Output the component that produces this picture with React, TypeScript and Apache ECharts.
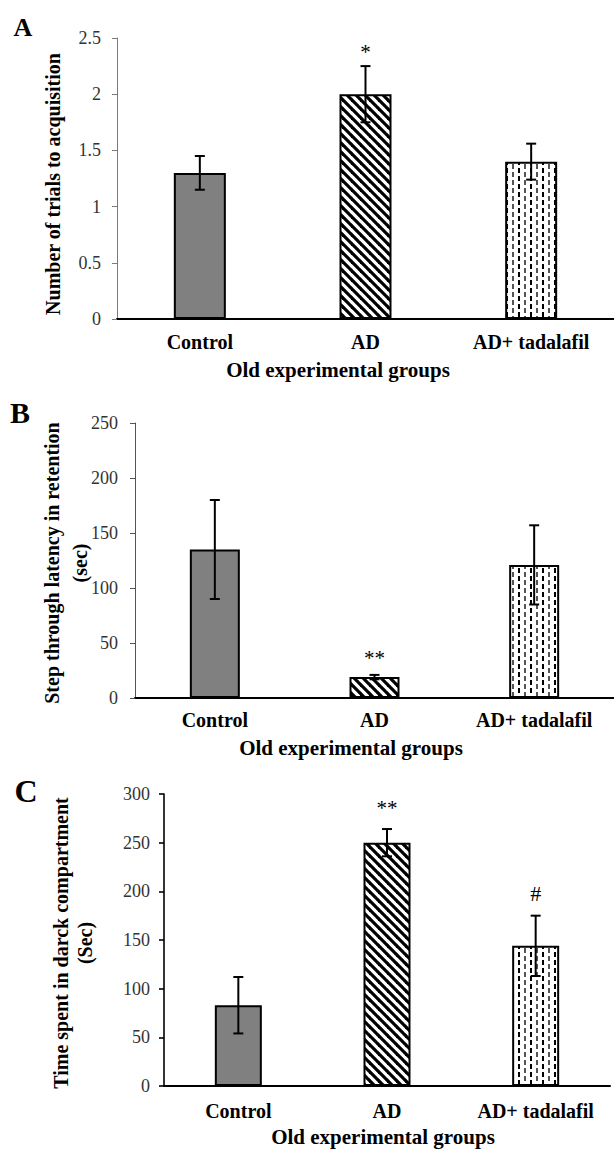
import React, { useEffect, useRef } from 'react';
import * as echarts from 'echarts';

// ---- data ----
const categories = ['Control', 'AD', 'AD+ tadalafil'];

const trialsMean = [1.3, 2.0, 1.4];
const trialsErr = [0.15, 0.25, 0.16];
const trialsSig = ['', '*', ''];
const trialsAxis = [0, 2.5, 0.5]; // min, max, interval

const latencyMean = [135, 19, 121];
const latencyErr = [45, 2, 36];
const latencySig = ['', '**', ''];
const latencyAxis = [0, 250, 50];

const darkMean = [83, 250, 144];
const darkErr = [29, 14, 31];
const darkSig = ['', '**', '#'];
const darkAxis = [0, 300, 50];

const panelLetters = ['A', 'B', 'C'];
const yTitles = [
  'Number of trials to acquisition',
  'Step through latency in retention\n(sec)',
  'Time spent in darck compartment\n(Sec)',
];
const xTitle = 'Old experimental groups';

const SERIF = '"Liberation Serif", "Times New Roman", serif';

function makeHatch(): HTMLCanvasElement {
  const s = 9;
  const c = document.createElement('canvas');
  c.width = s;
  c.height = s;
  const ctx = c.getContext('2d')!;
  ctx.fillStyle = '#fff';
  ctx.fillRect(0, 0, s, s);
  ctx.strokeStyle = '#000';
  ctx.lineWidth = 3.2;
  for (let k = -1; k <= 1; k++) {
    ctx.beginPath();
    ctx.moveTo(k * s - 1, -1);
    ctx.lineTo(k * s + s + 1, s + 1);
    ctx.stroke();
  }
  return c;
}

function makeDashes(): HTMLCanvasElement {
  const w = 12;
  const h = 8;
  const c = document.createElement('canvas');
  c.width = w;
  c.height = h;
  const ctx = c.getContext('2d')!;
  ctx.fillStyle = '#fff';
  ctx.fillRect(0, 0, w, h);
  ctx.fillStyle = '#000';
  ctx.fillRect(2, 0, 2, 5);
  ctx.fillStyle = '#555';
  ctx.fillRect(8, 4, 2, 4);
  ctx.fillRect(8, 0, 2, 1);
  return c;
}

export default function App() {
  const ref = useRef<HTMLDivElement>(null);

  useEffect(() => {
    document.body.style.margin = '0';
    const chart = echarts.init(ref.current!, null, { renderer: 'svg' });

    const hatch = makeHatch();
    const dashes = makeDashes();
    const hatchFill: any = { image: hatch, repeat: 'repeat', imageWidth: hatch.width, imageHeight: hatch.height };
    const dashFill: any = { image: dashes, repeat: 'repeat', imageWidth: dashes.width, imageHeight: dashes.height };

    const panels = [
      { mean: trialsMean, err: trialsErr, sig: trialsSig, axis: trialsAxis },
      { mean: latencyMean, err: latencyErr, sig: latencySig, axis: latencyAxis },
      { mean: darkMean, err: darkErr, sig: darkSig, axis: darkAxis },
    ];

    const grids = [
      { left: 117, top: 38, width: 497, height: 281 },
      { left: 135, top: 423, width: 479, height: 275 },
      { left: 164, top: 794, width: 446, height: 292 },
    ];
    const barWidths = [52, 50, 47];
    const yAxisStyle = [
      { color: '#7a7a7a', width: 1 },
      { color: '#555', width: 1 },
      { color: '#000', width: 1.6 },
    ];
    const yLabelMargin = [16, 17, 14];
    const xLabelMargin = [13, 12, 15];
    const sigGap = [14, 17, 21];

    const fills = [
      { color: '#808080', borderColor: '#000', borderWidth: 2 },
      { color: hatchFill, borderColor: '#000', borderWidth: 2 },
      { color: dashFill, borderColor: '#000', borderWidth: 2 },
    ];

    const series: any[] = [];
    panels.forEach((p, i) => {
      series.push({
        type: 'bar',
        xAxisIndex: i,
        yAxisIndex: i,
        barWidth: barWidths[i],
        data: p.mean.map((v, j) => ({ value: v, itemStyle: fills[j] })),
        z: 2,
      });
      series.push({
        type: 'custom',
        xAxisIndex: i,
        yAxisIndex: i,
        z: 5,
        data: p.mean.map((v, j) => [j, v, p.err[j]]),
        renderItem: (params: any, api: any) => {
          const x = api.value(0);
          const v = api.value(1);
          const e = api.value(2);
          const top = api.coord([x, v + e]);
          const bot = api.coord([x, v - e]);
          const hw = 5;
          const st = { stroke: '#000', lineWidth: 2 };
          const s = p.sig[params.dataIndex];
          const children: any[] = [
            { type: 'line', shape: { x1: top[0], y1: top[1], x2: bot[0], y2: bot[1] }, style: st },
            { type: 'line', shape: { x1: top[0] - hw, y1: top[1], x2: top[0] + hw, y2: top[1] }, style: st },
            { type: 'line', shape: { x1: bot[0] - hw, y1: bot[1], x2: bot[0] + hw, y2: bot[1] }, style: st },
          ];
          if (s) {
            const isHash = s === '#';
            children.push({
              type: 'text',
              x: top[0],
              y: top[1] - (isHash ? 22 : sigGap[i]),
              style: {
                text: s,
                fontFamily: SERIF,
                fontSize: isHash ? 22 : 21,
                fill: '#000',
                align: 'center',
                verticalAlign: 'middle',
              },
            });
          }
          return { type: 'group', children };
        },
      });
    });

    const graphic: any[] = [
      // panel letters
      { type: 'text', x: 23, y: 27, style: { text: panelLetters[0], font: `bold 26px ${SERIF}`, fill: '#000', align: 'center', verticalAlign: 'middle' } },
      { type: 'text', x: 20, y: 412, style: { text: panelLetters[1], font: `bold 30px ${SERIF}`, fill: '#000', align: 'center', verticalAlign: 'middle' } },
      { type: 'text', x: 26, y: 791, style: { text: panelLetters[2], font: `bold 32px ${SERIF}`, fill: '#000', align: 'center', verticalAlign: 'middle' } },
      // x titles
      { type: 'text', x: 338, y: 370, style: { text: xTitle, font: `bold 21px ${SERIF}`, fill: '#000', align: 'center', verticalAlign: 'middle' } },
      { type: 'text', x: 351, y: 748, style: { text: xTitle, font: `bold 21px ${SERIF}`, fill: '#000', align: 'center', verticalAlign: 'middle' } },
      { type: 'text', x: 383, y: 1137, style: { text: xTitle, font: `bold 21px ${SERIF}`, fill: '#000', align: 'center', verticalAlign: 'middle' } },
      // y titles
      { type: 'text', x: 53, y: 184, rotation: Math.PI / 2, style: { text: yTitles[0], font: `bold 20px ${SERIF}`, fill: '#000', align: 'center', verticalAlign: 'middle' } },
      { type: 'text', x: 66, y: 563, rotation: Math.PI / 2, style: { text: yTitles[1], font: `bold 20px ${SERIF}`, lineHeight: 28, fill: '#000', align: 'center', verticalAlign: 'middle' } },
      { type: 'text', x: 73, y: 943, rotation: Math.PI / 2, style: { text: yTitles[2], font: `bold 20px ${SERIF}`, lineHeight: 24, fill: '#000', align: 'center', verticalAlign: 'middle' } },
    ];

    const option: any = {
      animation: false,
      backgroundColor: '#fff',
      grid: grids,
      xAxis: grids.map((_, i) => ({
        type: 'category',
        gridIndex: i,
        data: categories,
        axisLine: { show: true, lineStyle: { color: '#000', width: 2 } },
        axisTick: { show: false },
        axisLabel: {
          interval: 0,
          margin: xLabelMargin[i],
          fontFamily: SERIF,
          fontWeight: 'bold',
          fontSize: 20,
          color: '#000',
        },
        splitLine: { show: false },
      })),
      yAxis: panels.map((p, i) => ({
        type: 'value',
        gridIndex: i,
        min: p.axis[0],
        max: p.axis[1],
        interval: p.axis[2],
        axisLine: { show: true, lineStyle: yAxisStyle[i] },
        axisTick: { show: true, length: 5, lineStyle: yAxisStyle[i] },
        splitLine: { show: false },
        axisLabel: {
          margin: yLabelMargin[i],
          fontFamily: SERIF,
          fontSize: 18,
          color: '#333',
        },
      })),
      series,
      graphic,
    };

    chart.setOption(option);
    return () => chart.dispose();
  }, []);

  return (
    <div
      ref={ref}
      style={{ position: 'absolute', left: 0, top: 0, width: 614, height: 1150, background: '#fff' }}
    />
  );
}
